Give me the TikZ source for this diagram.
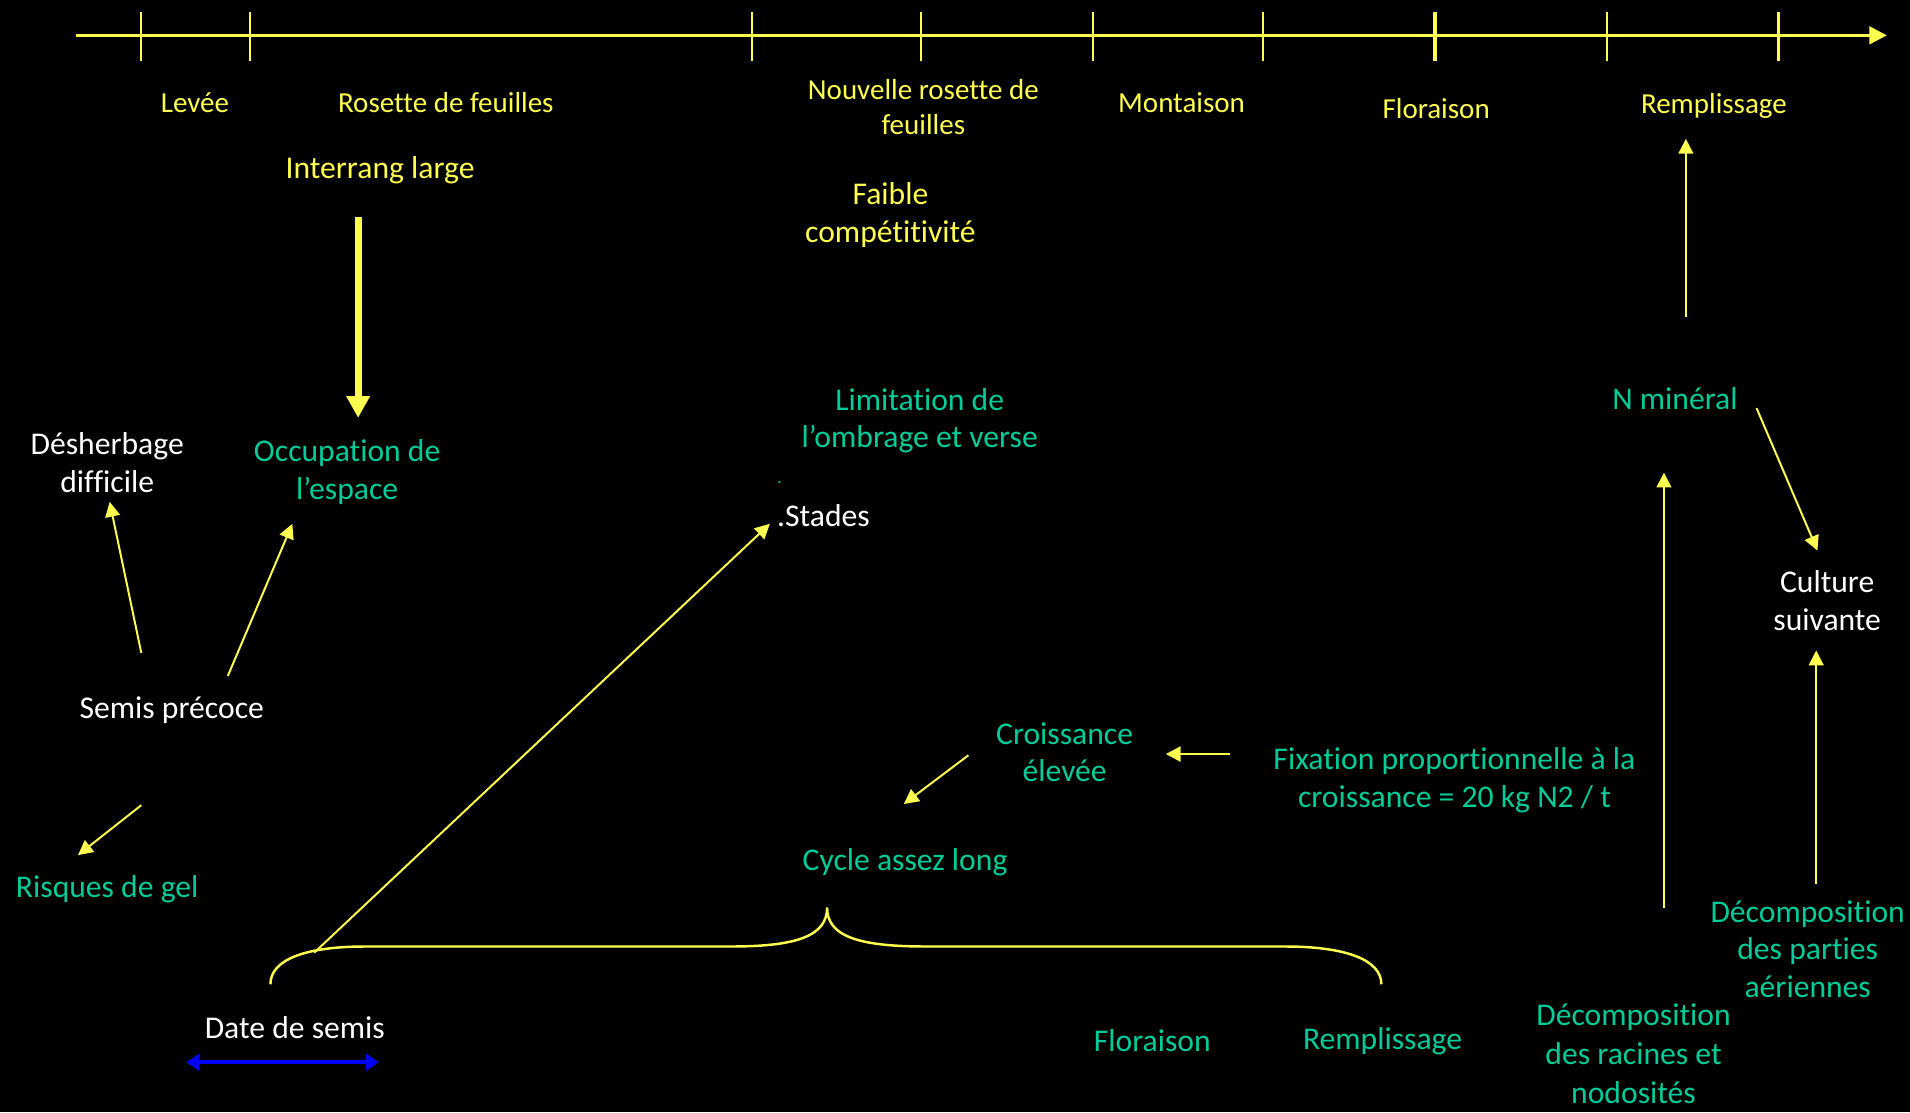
\documentclass[tikz,border=0pt]{standalone}
\usepackage{fontspec}
\setmainfont[Ligatures={NoCommon}]{Carlito}
\usetikzlibrary{arrows.meta,calc}
\definecolor{ylw}{HTML}{FFFF50}
\definecolor{grn}{HTML}{00CC99}
\definecolor{blu}{HTML}{0000FF}
\begin{document}
\begin{tikzpicture}[x=0.1218mm,y=-0.1218mm,
  lbl/.style={font=\fontsize{9}{10.7}\selectfont, align=center, inner sep=0pt},
  tl/.style={font=\fontsize{8.25}{10}\selectfont, align=center, inner sep=0pt, text=ylw},
  yt/.style={lbl,text=ylw},
  gt/.style={lbl,text=grn},
  wt/.style={lbl,text=white},
  arr/.style={draw=ylw, line width=0.56pt, -{Triangle[length=4.2pt,width=4.2pt]}},
  thickarr/.style={draw=ylw, line width=2pt, -{Triangle[length=6.2pt,width=6.4pt]}},
  axis/.style={draw=ylw, line width=0.85pt},
  tick/.style={draw=ylw, line width=0.6pt},
  bracestyle/.style={draw=ylw, line width=0.7pt},
  bluearr/.style={draw=blu, line width=1.1pt, {Triangle[length=3.6pt,width=4.6pt]}-{Triangle[length=3.6pt,width=4.6pt]}}
]
\path[fill=black] (0,0) rectangle (1568,913);

% timeline
\coordinate (t0) at (62,29);
\coordinate (t1) at (1549,29);
\draw[axis, -{Triangle[length=5pt,width=5pt]}] (t0) -- (t1);
\foreach \x in {116,205,617,756,897,1037,1319,1460}
  \draw[tick] (\x,10) -- (\x,50);
\draw[tick, line width=0.9pt] (1178,10) -- (1178,50);

% timeline labels
\node[tl] (levee) at (160,84) {Levée};
\node[tl] (rosette) at (366,84) {Rosette de feuilles};
\node[tl] (nrosette) at (758,88) {Nouvelle rosette de\\feuilles};
\node[tl] (montaison) at (970,84) {Montaison};
\node[tl] (floraison) at (1179,89) {Floraison};
\node[tl] (remp) at (1407,87) {Remplissage};

% other labels
\node[yt] (interrang) at (312,140) {Interrang large};
\node[yt] (faible) at (731,176.5) {Faible\\compétitivité};
\node[gt] (limit) at (755,345.5) {Limitation de\\l’ombrage et verse};
\node[gt] (nmin) at (1375,327) {N minéral};
\node[wt] (desh) at (88,380) {Désherbage\\difficile};
\node[gt] (occ) at (285,387.5) {Occupation de\\l’espace};
\node[gt, font=\fontsize{5}{6}\selectfont] (dot) at (640,396) {.};
\node[wt] (stades) at (676,423) {.Stades};
\node[wt] (culture) at (1500,493) {Culture\\suivante};
\node[wt] (semis) at (141,583) {Semis précoce};
\node[gt] (crois) at (874,617.5) {Croissance\\élevée};
\node[gt] (fix) at (1194,640.5) {Fixation proportionnelle à la\\croissance = 20 kg N2 / t};
\node[gt] (cycle) at (743,708) {Cycle assez long};
\node[gt] (gel) at (88,730) {Risques de gel};
\node[gt] (parties) at (1484,779) {Décomposition\\des parties\\aériennes};
\node[wt] (date) at (242,844) {Date de semis};
\node[gt] (flor2) at (946,854) {Floraison};
\node[gt] (remp2) at (1135,855) {Remplissage};
\node[gt, font=\fontsize{9}{11}\selectfont] (racines) at (1341,865) {Décomposition\\des racines et\\nodosités};

% arrows
\draw[thickarr] ($(interrang)+(-18,38)$) -- ($(occ)+(9,-44.5)$);
\draw[arr] ($(semis)+(-25,-47)$) -- ($(desh)+(2,32)$);
\draw[arr] ($(semis)+(46,-28)$) -- ($(occ)+(-45,42.5)$);
\draw[arr] ($(semis)+(-25,78)$) -- ($(gel)+(-24,-28)$);
\draw[arr] ($(date)+(16,-62)$) -- ($(stades)+(-44,7)$);
\draw[arr] ($(crois)+(-79,2.5)$) -- ($(cycle)+(-1,-48)$);
\draw[arr, line width=0.8pt] ($(fix)+(-184,-21.5)$) -- ($(crois)+(83,1.5)$);
\draw[arr] ($(nmin)+(9,-67)$) -- ($(remp)+(-23,27)$);
\draw[arr] ($(racines)+(25,-120)$) -- ($(nmin)+(-9,61)$);
\draw[arr] ($(nmin)+(67,8)$) -- ($(culture)+(-8,-41)$);
\draw[arr] ($(parties)+(7,-53)$) -- ($(culture)+(-9,41)$);

% brace
\draw[bracestyle] (222,808) .. controls (222,788) and (250,777) .. (300,777)
  -- (600,777) .. controls (655,777) and (679,768) .. (679,745)
  .. controls (679,768) and (703,777) .. (760,777)
  -- (1055,777) .. controls (1105,777) and (1134,788) .. (1134,808);

% blue double arrow
\coordinate (b0) at ($(date)+(-89,28)$);
\coordinate (b1) at ($(date)+(69,28)$);
\draw[bluearr] (b0) -- (b1);
\end{tikzpicture}
\end{document}
